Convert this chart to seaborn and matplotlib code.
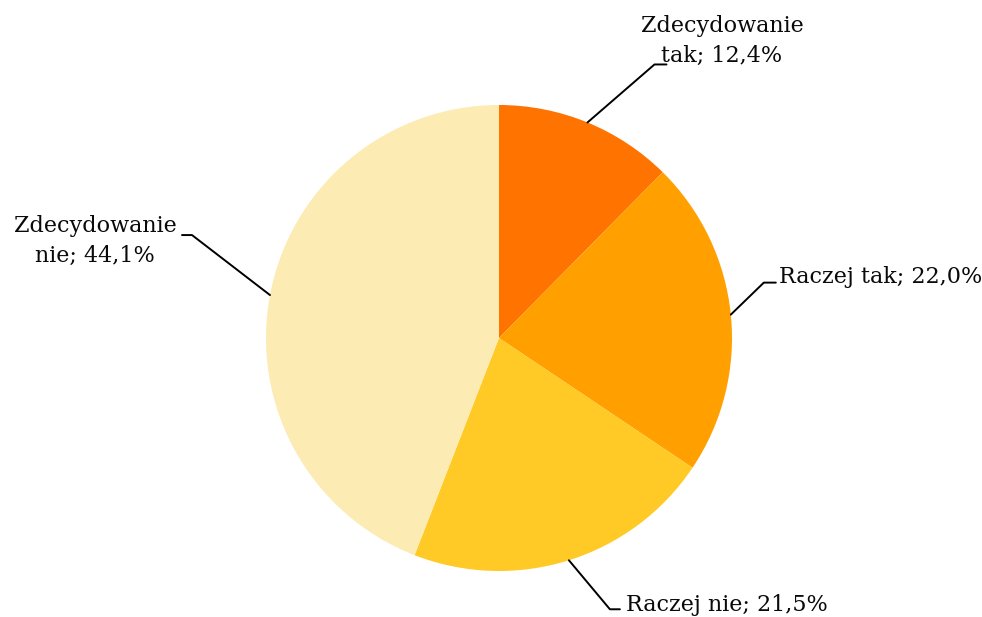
import matplotlib
matplotlib.use("Agg")
import matplotlib.pyplot as plt
import numpy as np
import seaborn as sns

labels = ["Zdecydowanie\ntak; 12,4%", "Raczej tak; 22,0%", "Raczej nie; 21,5%", "Zdecydowanie\nnie; 44,1%"]
values = [12.4, 22.0, 21.5, 44.1]
colors = ["#FF7300", "#FFA000", "#FFC926", "#FDEBB4"]

sns.set_theme(style="white")
plt.rcParams["font.family"] = ["DejaVu Serif", "Liberation Serif"]

W, H = 982, 617
fig = plt.figure(figsize=(W / 100, H / 100), dpi=100)
ax = fig.add_axes([0, 0, 1, 1])

cx, cy, r = 499, H - 338, 233
wedges, _ = ax.pie(values, colors=colors, startangle=90, counterclock=False,
                   center=(cx, cy), radius=r, frame=True,
                   wedgeprops=dict(linewidth=0))
ax.set_xlim(0, W)
ax.set_ylim(0, H)
ax.set_aspect("equal")
ax.axis("off")

# elbow offsets (dx, dy of elbow from arc point), horizontal tail, text anchor
leaders = [
    ((67, 58), 12, "center", (722, H - 41)),
    ((33, 32), 12, "left", (779, H - 277)),
    ((41, -49), 10, "left", (626, H - 605)),
    ((-78, 60), -10, "center", (95, H - 241)),
]
for w, (off, tail, ha, txt) in zip(wedges, leaders):
    ang = np.deg2rad((w.theta1 + w.theta2) / 2)
    x0, y0 = cx + r * np.cos(ang), cy + r * np.sin(ang)
    x1, y1 = x0 + off[0], y0 + off[1]
    ax.plot([x0, x1, x1 + tail], [y0, y1, y1], color="black", lw=1.4)

for lab, (off, tail, ha, txt) in zip(labels, leaders):
    ax.text(txt[0], txt[1], lab, ha=ha, va="center", fontsize=16,
            linespacing=1.45, multialignment="center", color="#0a0a0a")

fig.savefig("out.png", dpi=100)
